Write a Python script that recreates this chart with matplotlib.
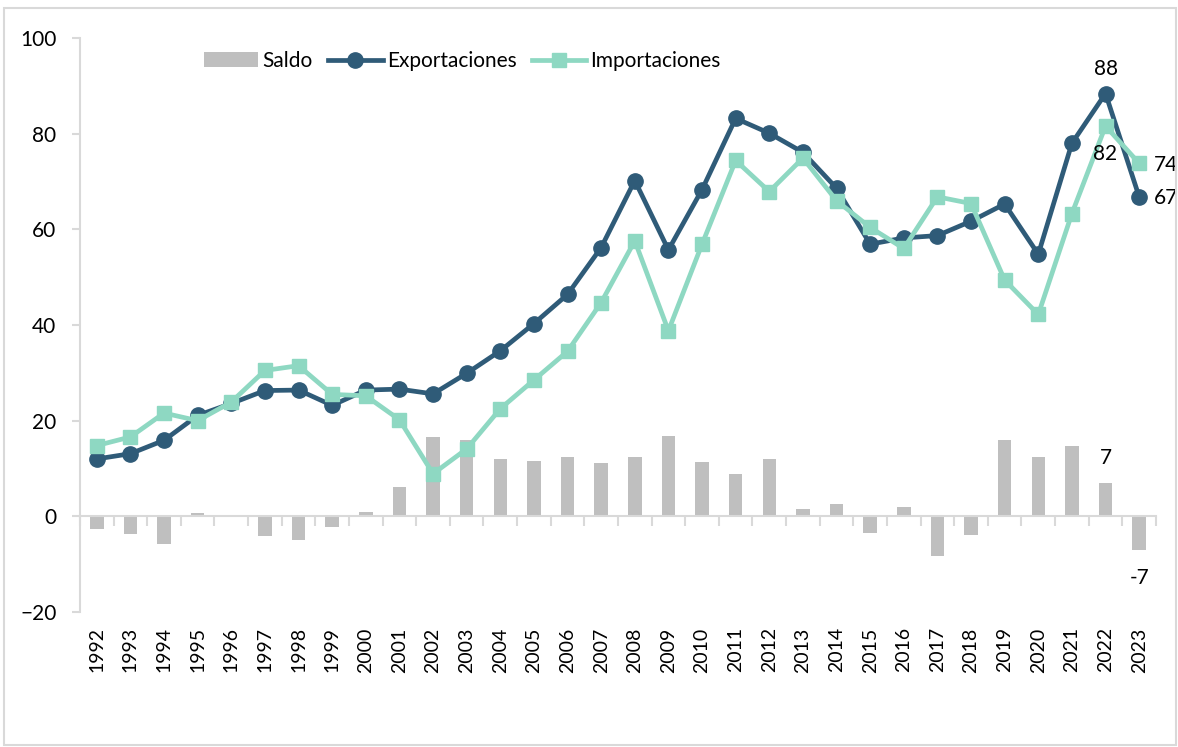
import numpy as np
import matplotlib.pyplot as plt
from matplotlib.patches import Rectangle

plt.rcParams['font.family'] = ['Lato', 'DejaVu Sans']

years = ['1992', '1993', '1994', '1995', '1996', '1997', '1998', '1999',
         '2000', '2001', '2002', '2003', '2004', '2005', '2006', '2007',
         '2008', '2009', '2010', '2011', '2012', '2013', '2014', '2015',
         '2016', '2017', '2018', '2019', '2020', '2021', '2022', '2023']

exportaciones = [12.0, 13.1, 15.9, 21.1, 23.6, 26.3, 26.4, 23.2, 26.4, 26.6,
                 25.6, 29.9, 34.6, 40.3, 46.4, 56.2, 70.2, 55.7, 68.3, 83.2,
                 80.1, 76.1, 68.6, 56.9, 58.2, 58.7, 61.7, 65.3, 54.8, 78.0,
                 88.4, 66.8]

importaciones = [14.8, 16.6, 21.6, 20.0, 23.9, 30.5, 31.5, 25.5, 25.2, 20.2,
                 8.9, 14.1, 22.5, 28.5, 34.5, 44.7, 57.6, 38.8, 56.9, 74.4,
                 67.9, 74.9, 66.0, 60.4, 56.0, 66.8, 65.4, 49.4, 42.2, 63.3,
                 81.6, 73.8]

saldo = [-2.7, -3.6, -5.8, 0.8, 0.0, -4.1, -5.0, -2.2, 1.0, 6.1,
         16.6, 16.0, 12.0, 11.5, 12.4, 11.2, 12.4, 16.8, 11.3, 8.9,
         11.9, 1.5, 2.6, -3.4, 1.9, -8.3, -3.8, 15.9, 12.4, 14.7,
         6.9, -7.0]

c_exp = '#2F5B78'
c_imp = '#8ED8C2'
c_bar = '#BFBFBF'
c_axis = '#D9D9D9'
fs = 15

fig = plt.figure(figsize=(11.78, 7.47), dpi=100)
ax = fig.add_axes([0.0679, 0.1807, 0.9134, 0.7684])

x = np.arange(len(years))

b = ax.bar(x, saldo, width=0.4, color=c_bar, label='Saldo', zorder=2)
l1, = ax.plot(x, exportaciones, color=c_exp, lw=3.4, marker='o',
              markersize=11, label='Exportaciones', zorder=3)
l2, = ax.plot(x, importaciones, color=c_imp, lw=3.4, marker='s',
              markersize=10, label='Importaciones', zorder=4)

ax.set_xlim(-0.5, len(years) - 0.5)
ax.set_ylim(-20, 100)
ax.set_yticks(np.arange(-20, 101, 20))

for s in ['top', 'right']:
    ax.spines[s].set_visible(False)
ax.spines['left'].set_color(c_axis)
ax.spines['left'].set_linewidth(1.5)
ax.spines['bottom'].set_position(('data', 0))
ax.spines['bottom'].set_color(c_axis)
ax.spines['bottom'].set_linewidth(1.5)

ax.tick_params(axis='y', length=6, width=1.5, color=c_axis, pad=11,
               labelsize=fs)
ax.set_xticks(x)
ax.tick_params(axis='x', which='major', length=0, labelbottom=False)
ax.set_xticks(np.arange(-0.5, len(years), 1), minor=True)
ax.tick_params(axis='x', which='minor', length=7, width=1.5, color=c_axis,
               direction='out')

sec = ax.secondary_xaxis('bottom')
sec.set_xticks(x, years, rotation=90)
sec.spines['bottom'].set_visible(False)
sec.tick_params(length=0, pad=11, labelsize=14)

# etiquetas de los ultimos valores
lab = dict(textcoords='offset points', ha='center', va='center',
           fontsize=fs, zorder=6)
ax.annotate(f'{exportaciones[-2]:.0f}', (x[-2], exportaciones[-2]),
            xytext=(0, 18), **lab)
ax.annotate(f'{importaciones[-2]:.0f}', (x[-2], importaciones[-2]),
            xytext=(0, -20), **lab)
ax.annotate(f'{importaciones[-1]:.0f}', (x[-1], importaciones[-1]),
            xytext=(19, -1), **lab)
ax.annotate(f'{exportaciones[-1]:.0f}', (x[-1], exportaciones[-1]),
            xytext=(19, -1), **lab)
ax.annotate(f'{saldo[-2]:.0f}', (x[-2], saldo[-2]),
            xytext=(0, 18), **lab)
ax.annotate(f'{saldo[-1]:.0f}', (x[-1], saldo[-1]),
            xytext=(0, -20), **lab)

ax.legend([b, l1, l2], ['Saldo', 'Exportaciones', 'Importaciones'],
          loc='center left', bbox_to_anchor=(0.098, 0.96), ncol=3,
          frameon=False, fontsize=fs, handlelength=2.6, handletextpad=0.2,
          columnspacing=0.75)

fig.patches.append(Rectangle((0.0034, 0.003), 0.995, 0.986,
                             transform=fig.transFigure, fill=False,
                             edgecolor=c_axis, lw=1.5))

fig.savefig('out.png', dpi=100)
